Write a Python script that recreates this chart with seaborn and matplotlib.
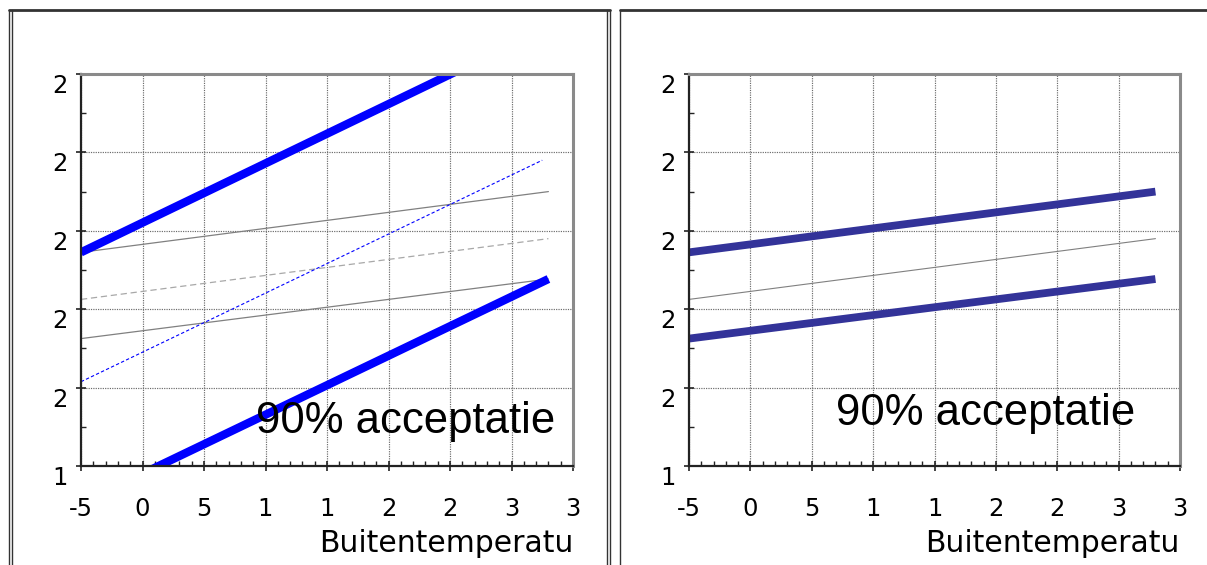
import matplotlib
matplotlib.use('Agg')
import matplotlib.pyplot as plt
import seaborn as sns
from matplotlib.ticker import MultipleLocator
from matplotlib.lines import Line2D

sns.set_style("white")
plt.rcParams['font.family'] = ['DejaVu Sans']

# --- data ---
temp_ends = [-5, 33]
temp_ends_short = [-5, 32.5]
comfort_upper = [23.45, 25.0]
comfort_neutral = [22.25, 23.8]
comfort_lower = [21.25, 22.77]
wide_upper = [23.45, 29.2]
wide_lower = [17.05, 22.77]
wide_neutral = [20.15, 25.8]

x_ticks = [-5, 0, 5, 10, 15, 20, 25, 30, 35]
x_tick_labels = ["-5", "0", "5", "1", "1", "2", "2", "3", "3"]
y_ticks = [18, 20, 22, 24, 26, 28]
y_tick_labels = ["1", "2", "2", "2", "2", "2"]

W, H = 1207, 565


def px_rect(x0, y0, x1, y1):
    return [x0 / W, 1 - y1 / H, (x1 - x0) / W, (y1 - y0) / H]


def fig_line(fig, xs, ys, lw, color):
    fig.add_artist(Line2D([x / W for x in xs], [1 - y / H for y in ys],
                          transform=fig.transFigure, lw=lw, color=color))


def style_axes(ax):
    ax.set_xlim(-5, 35)
    ax.set_ylim(18, 28)
    ax.set_xticks(x_ticks)
    ax.set_xticklabels(x_tick_labels)
    ax.set_yticks(y_ticks)
    ax.set_yticklabels(y_tick_labels)
    ax.xaxis.set_minor_locator(MultipleLocator(1))
    ax.yaxis.set_minor_locator(MultipleLocator(1))
    ax.grid(True, which='major', color='#6a6a6a', linestyle=(0, (1, 1)), linewidth=0.85)
    ax.set_axisbelow(True)
    for side in ['left', 'bottom']:
        ax.spines[side].set_color('#222222')
        ax.spines[side].set_linewidth(1.6)
    for side in ['top', 'right']:
        ax.spines[side].set_color('#8a8a8a')
        ax.spines[side].set_linewidth(2.2)
    ax.tick_params(which='both', bottom=True, left=True, top=False, right=False)
    ax.tick_params(which='major', direction='inout', length=7, width=1.2,
                   color='#222222', labelsize=17.5, labelcolor='black')
    ax.tick_params(axis='x', which='major', pad=18.5)
    ax.tick_params(axis='y', which='major', pad=6)
    ax.tick_params(which='minor', direction='in', length=3.8, width=1.0, color='#222222')
    for lab in ax.get_yticklabels():
        lab.set_va('top')
    ax.set_xlabel("Buitentemperatu", loc='right', fontsize=21.5, labelpad=6,
                  color='black')
    ax.set_ylabel("")


fig = plt.figure(figsize=(12.07, 5.65), dpi=100)

# panel frames
fig_line(fig, [9, 610], [10, 10], 2, '#333333')
fig_line(fig, [9, 9], [10, 565], 1, '#333333')
fig_line(fig, [12, 12], [10, 565], 1, '#333333')
fig_line(fig, [607, 607], [10, 565], 1, '#333333')
fig_line(fig, [610, 610], [10, 565], 1, '#333333')
fig_line(fig, [620, 1207], [10, 10], 2, '#333333')
fig_line(fig, [620, 620], [10, 565], 1, '#333333')

ax1 = fig.add_axes(px_rect(81, 74, 573, 466))
ax2 = fig.add_axes(px_rect(689, 74, 1180, 466))

# --- left panel ---
sns.lineplot(x=temp_ends, y=comfort_upper, ax=ax1, color='#808080', linewidth=0.9)
sns.lineplot(x=temp_ends, y=comfort_lower, ax=ax1, color='#808080', linewidth=0.9)
sns.lineplot(x=temp_ends, y=comfort_neutral, ax=ax1, color='#a8a8a8', linewidth=0.9,
             linestyle=(0, (5, 3)))
sns.lineplot(x=temp_ends_short, y=wide_neutral, ax=ax1, color='#0000ff', linewidth=0.8,
             linestyle=(0, (3, 2)))
sns.lineplot(x=temp_ends, y=wide_upper, ax=ax1, color='#0000ff', linewidth=6,
             solid_capstyle='butt')
sns.lineplot(x=temp_ends, y=wide_lower, ax=ax1, color='#0000ff', linewidth=6,
             solid_capstyle='butt')
style_axes(ax1)
ax1.text(0.356, 0.084, "90% acceptatie", transform=ax1.transAxes, fontsize=31.5,
         family='Liberation Sans', ha='left', va='baseline', color='black', zorder=10)

# --- right panel ---
sns.lineplot(x=temp_ends, y=comfort_neutral, ax=ax2, color='#808080', linewidth=0.8)
sns.lineplot(x=temp_ends, y=comfort_upper, ax=ax2, color='#333399', linewidth=5.6,
             solid_capstyle='butt')
sns.lineplot(x=temp_ends, y=comfort_lower, ax=ax2, color='#333399', linewidth=5.6,
             solid_capstyle='butt')
style_axes(ax2)
ax2.text(0.299, 0.105, "90% acceptatie", transform=ax2.transAxes, fontsize=31.5,
         family='Liberation Sans', ha='left', va='baseline', color='black', zorder=10)

fig.savefig("out.png", dpi=100)
plt.close(fig)
